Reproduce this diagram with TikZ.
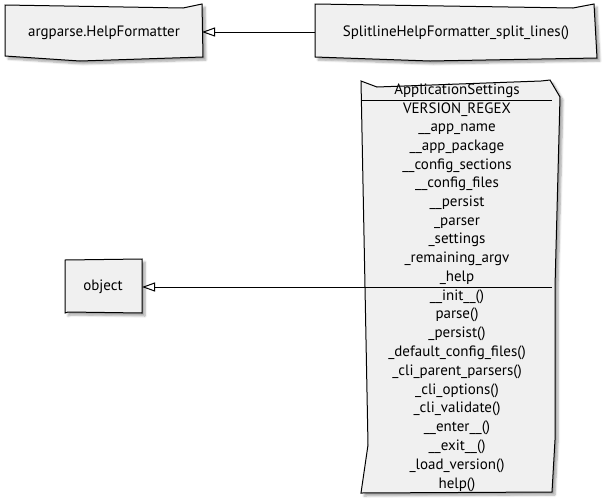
\documentclass[tikz,border=0pt]{standalone}
\usepackage{fontspec}
\setmainfont{PT Sans}
\usetikzlibrary{arrows.meta,shadows.blur}
\begin{document}
\begin{tikzpicture}[x=1pt,y=-1pt,
  box/.style={draw=black, line width=1pt, fill=black!6,
    blur shadow={shadow xshift=3pt, shadow yshift=-3pt, shadow blur steps=6, shadow opacity=35}},
  sep/.style={draw=black, line width=1pt},
  lbl/.style={font=\fontsize{15}{17}\selectfont, inner sep=0pt, anchor=base},
  ext/.style={draw=black, line width=1pt, -{Triangle[open,length=13pt,width=9pt]}}]
\useasboundingbox (0,0) rectangle (603,499);

% boxes
\path[box] (5,5) -- (183,8) -- (202,4) -- (203,57) -- (80,61) -- (5,56) -- cycle;
\path[box] (315,4) -- (573,8) -- (594,4) -- (597,58) -- (430,61) -- (315,57) -- cycle;
\path[box] (65,260) -- (142,259) -- (142,313) -- (68,312) -- (65,313) -- cycle;
\path[box] (361,81) -- (377,87) -- (541,81) -- (550,80) -- (560,97) -- (555,287) -- (555,440) -- (552,492) -- (361,493) -- (368,445) -- (365,287) -- cycle;
\draw[sep] (361,100) -- (552,100);
\draw[sep] (365,287) -- (552,287);

% labels
\node[lbl] (hf) at (104,36) {argparse.HelpFormatter};
\node[lbl] (sl) at (456,36) {SplitlineHelpFormatter\_split\_lines()};
\node[lbl] (obj) at (103,290) {object};
\node[lbl] (as) at (457,94) {ApplicationSettings};

\foreach \t [count=\i from 0] in {VERSION\_REGEX, \_\_app\_name, \_\_app\_package, \_\_config\_sections, \_\_config\_files, \_\_persist, \_parser, \_settings, \_remaining\_argv, \_help}
  \node[lbl] (attr\i) at (457,113+18.67*\i) {\t};
\foreach \t [count=\i from 0] in {\_\_init\_\_(), parse(), \_persist(), \_default\_config\_files(), \_cli\_parent\_parsers(), \_cli\_options(), \_cli\_validate(), \_\_enter\_\_(), \_\_exit\_\_(), \_load\_version(), help()}
  \node[lbl] (meth\i) at (457,300+18.8*\i) {\t};

% connector end points
\coordinate (hfE) at (202,32);
\coordinate (slW) at (315,32);
\coordinate (objE) at (142,287);
\coordinate (asW) at (365,287);

\draw[ext] (slW) -- (hfE);
\draw[ext] (asW) -- (objE);
\end{tikzpicture}
\end{document}
